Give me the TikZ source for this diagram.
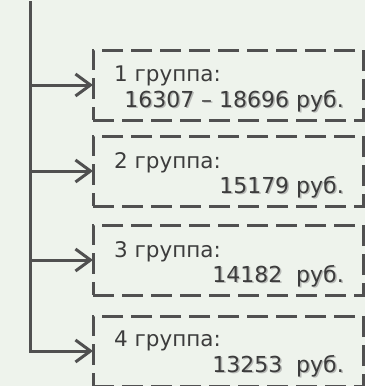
\documentclass[tikz,border=0pt]{standalone}
\usepackage{fontspec}
\setmainfont{DejaVu Sans}
\usetikzlibrary{arrows.meta}
\definecolor{bgc}{HTML}{EEF3EC}
\definecolor{linec}{HTML}{505050}
\definecolor{txtc}{HTML}{3C3C3C}
\tikzset{
  grpbox/.style={draw=linec, line width=3pt, dash pattern=on 21pt off 8pt,
    minimum width=270pt, minimum height=70pt, inner sep=0pt, outer sep=0pt},
  conn/.style={draw=linec, line width=3pt},
  arr/.style={conn, -{Straight Barb[length=15pt,width=22pt,line width=3pt]}},
  headtxt/.style={text=txtc, font=\fontsize{21.5}{25}\selectfont, inner sep=0pt, anchor=base west},
  sumtxt/.style={text=txtc, font=\fontsize{22}{26}\selectfont, inner sep=0pt, anchor=base east},
  shadowtxt/.style={text=black!45, opacity=0.55, font=\fontsize{22}{26}\selectfont, inner sep=0pt, anchor=base east}
}
\begin{document}
\begin{tikzpicture}[x=1pt,y=-1pt]
\fill[bgc] (0,0) rectangle (365,386);
\useasboundingbox (0,0) rectangle (365,386);
\clip (0,0) rectangle (365,386);
% boxes
\node[grpbox] (b1) at (228,85) {};
\node[grpbox] (b2) at (228,171) {};
\node[grpbox] (b3) at (228,260) {};
\node[grpbox] (b4) at (228,351) {};
% texts
\node[headtxt] (h1) at (114,81) {1 группа:};
\node[shadowtxt] at (345.5,108.5) {16307 – 18696 руб.};
\node[sumtxt] (s1) at (344,107) {16307 – 18696 руб.};
\node[headtxt] (h2) at (114,168) {2 группа:};
\node[shadowtxt] at (345.5,194.5) {15179 руб.};
\node[sumtxt] (s2) at (344,193) {15179 руб.};
\node[headtxt] (h3) at (114,257) {3 группа:};
\node[shadowtxt] at (345.5,283.5) {14182\ \ руб.};
\node[sumtxt] (s3) at (344,282) {14182\ \ руб.};
\node[headtxt] (h4) at (114,346) {4 группа:};
\node[shadowtxt] at (345.5,373.5) {13253\ \ руб.};
\node[sumtxt] (s4) at (344,372) {13253\ \ руб.};
% trunk and arrows
\coordinate (top) at (30,1);
\draw[arr] (top) |- (b4.west);
\draw[arr] (top |- b1.west) -- (b1.west);
\draw[arr] (top |- b2.west) -- (b2.west);
\draw[arr] (top |- b3.west) -- (b3.west);
\end{tikzpicture}
\end{document}
